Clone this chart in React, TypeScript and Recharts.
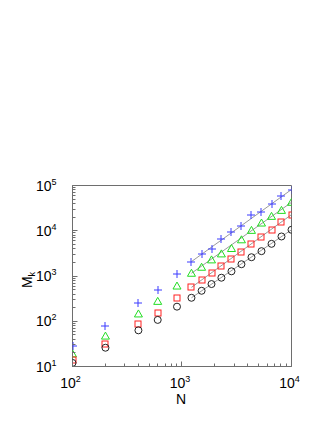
import React from "react";
import { ScatterChart, Scatter, XAxis, YAxis, ReferenceArea } from "recharts";

// N values (early points, then the fitted range)
const nValues = [100, 200, 400, 600, 900, 1220, 1510, 1860, 2290, 2830, 3490, 4310, 5320, 6570, 8100, 10000];

const plusValues = [29, 77, 256, 500, 1100, 2080, 3130, 4040, 6540, 9350, 12700, 21900, 26400, 39100, 60000, 81500];
const triangleValues = [19, 47, 145, 275, 600, 1150, 1560, 2270, 3080, 4050, 6310, 10200, 14800, 20800, 28200, 42500];
const squareValues = [14, 32, 86, 155, 330, 561, 815, 1150, 1690, 2350, 3470, 5060, 7240, 10200, 15600, 22700];
const circleValues = [12, 26, 63, 107, 210, 330, 471, 664, 916, 1270, 1820, 2600, 3540, 5140, 7470, 10500];

// straight fit lines over the large-N range
const fitN = [1220, 10000];
const plusFit = [2080, 81500];
const triangleFit = [1150, 42500];
const squareFit = [561, 22700];
const circleFit = [330, 10500];

const xMajor = [100, 1000, 10000];
const yMajor = [10, 100, 1000, 10000, 100000];

const minorTicks = (from: number, to: number) => {
  const out: number[] = [];
  for (let d = from; d < to; d *= 10) {
    for (let m = 1; m < 10; m++) out.push(d * m);
  }
  out.push(to);
  return out;
};
const xTicks = minorTicks(100, 10000);
const yTicks = minorTicks(10, 100000);

const pts = (xs: number[], ys: number[]) => xs.map((x, i) => ({ x, y: ys[i] }));

const FONT = "Liberation Sans, Arial, sans-serif";
const AXIS = "#6e6e6e";

// snap to pixel centre so 1px lines stay sharp
const snap = (v: number) => Math.floor(v) + 0.5;

const Power = ({ x, y, v, anchor }: any) => {
  const exp = Math.round(Math.log10(v));
  return (
    <text x={x} y={y} textAnchor={anchor} fontFamily={FONT} fontSize={14} fill="#000">
      10
      <tspan dy={-6} fontSize={9}>{exp}</tspan>
    </text>
  );
};

const XTick = (props: any) => {
  const { x, y, payload, top } = props;
  const v = payload.value;
  const major = xMajor.includes(v);
  const len = major ? 5 : 3;
  const dir = top ? 1 : -1;
  const sx = snap(x);
  return (
    <g>
      <line x1={sx} x2={sx} y1={y} y2={y + dir * len} stroke={AXIS} strokeWidth={1} />
      {!top && major && <Power x={x - 2} y={y + 21} v={v} anchor="middle" />}
    </g>
  );
};

const YTick = (props: any) => {
  const { x, y, payload, right } = props;
  const v = payload.value;
  const major = yMajor.includes(v);
  const len = major ? 5 : 3;
  const dir = right ? -1 : 1;
  const sy = snap(y);
  return (
    <g>
      <line x1={x} x2={x + dir * len} y1={sy} y2={sy} stroke={AXIS} strokeWidth={1} />
      {!right && major && <Power x={x - 16} y={y + 5} v={v} anchor="end" />}
    </g>
  );
};

const Plus = ({ cx, cy }: any) => {
  const x = Math.round(cx);
  const y = Math.round(cy);
  return (
    <g stroke="#3a3aff" strokeWidth={1}>
      <line x1={x - 4} x2={x + 4} y1={y} y2={y} />
      <line x1={x} x2={x} y1={y - 4} y2={y + 4} />
    </g>
  );
};
const Triangle = ({ cx, cy }: any) => (
  <polygon
    points={`${cx},${cy - 4} ${cx - 4},${cy + 3} ${cx + 4},${cy + 3}`}
    fill="none"
    stroke="#22dd22"
  />
);
const Square = ({ cx, cy }: any) => (
  <rect x={Math.round(cx) - 3} y={Math.round(cy) - 3} width={6} height={6} fill="none" stroke="#ff2020" />
);
const Circle = ({ cx, cy }: any) => <circle cx={cx} cy={cy} r={3.5} fill="none" stroke="#222" />;
const Nothing = () => <g />;

const fitLine = { stroke: "#9a9a9a", strokeWidth: 1 };
const axisLine = { stroke: AXIS, strokeWidth: 1 };

export default function App() {
  return (
    <div style={{ width: 310, height: 410 }}>
      <ScatterChart width={310} height={410} margin={{ top: 177.5, right: 26.5, bottom: 21.5, left: 24.5 }}>
        <XAxis
          dataKey="x"
          type="number"
          scale="log"
          domain={[100, 10000]}
          ticks={xTicks}
          interval={0}
          allowDataOverflow
          height={30}
          tickSize={0}
          tickMargin={0}
          axisLine={axisLine}
          tick={<XTick />}
          label={{
            content: () => (
              <text x={173} y={396} textAnchor="middle" fontFamily={FONT} fontSize={14} fill="#000">
                N
              </text>
            ),
          }}
        />
        <XAxis
          xAxisId="top"
          orientation="top"
          dataKey="x"
          type="number"
          scale="log"
          domain={[100, 10000]}
          ticks={xTicks}
          interval={0}
          allowDataOverflow
          height={0}
          tickSize={0}
          tickMargin={0}
          axisLine={axisLine}
          tick={<XTick top />}
        />
        <YAxis
          dataKey="y"
          type="number"
          scale="log"
          domain={[10, 100000]}
          ticks={yTicks}
          interval={0}
          allowDataOverflow
          width={40}
          tickSize={0}
          tickMargin={0}
          axisLine={axisLine}
          tick={<YTick />}
          label={{
            content: () => (
              <text
                transform="translate(23.5,272) rotate(-90)"
                textAnchor="middle"
                fontFamily={FONT}
                fontSize={14}
                fill="#000"
              >
                M<tspan dy={3} fontSize={9}>k</tspan>
              </text>
            ),
          }}
        />
        <YAxis
          yAxisId="right"
          orientation="right"
          dataKey="y"
          type="number"
          scale="log"
          domain={[10, 100000]}
          ticks={yTicks}
          interval={0}
          allowDataOverflow
          width={0}
          tickSize={0}
          tickMargin={0}
          axisLine={axisLine}
          tick={<YTick right />}
        />
        <ReferenceArea x1={100} x2={10000} y1={10} y2={100000} fill="none" stroke={AXIS} strokeWidth={1} />
        <Scatter data={pts(fitN, plusFit)} line={fitLine} lineType="joint" shape={<Nothing />} isAnimationActive={false} />
        <Scatter data={pts(fitN, triangleFit)} line={fitLine} lineType="joint" shape={<Nothing />} isAnimationActive={false} />
        <Scatter data={pts(fitN, squareFit)} line={fitLine} lineType="joint" shape={<Nothing />} isAnimationActive={false} />
        <Scatter data={pts(fitN, circleFit)} line={fitLine} lineType="joint" shape={<Nothing />} isAnimationActive={false} />
        <Scatter data={pts(nValues, plusValues)} shape={<Plus />} isAnimationActive={false} />
        <Scatter data={pts(nValues, triangleValues)} shape={<Triangle />} isAnimationActive={false} />
        <Scatter data={pts(nValues, squareValues)} shape={<Square />} isAnimationActive={false} />
        <Scatter data={pts(nValues, circleValues)} shape={<Circle />} isAnimationActive={false} />
      </ScatterChart>
    </div>
  );
}
